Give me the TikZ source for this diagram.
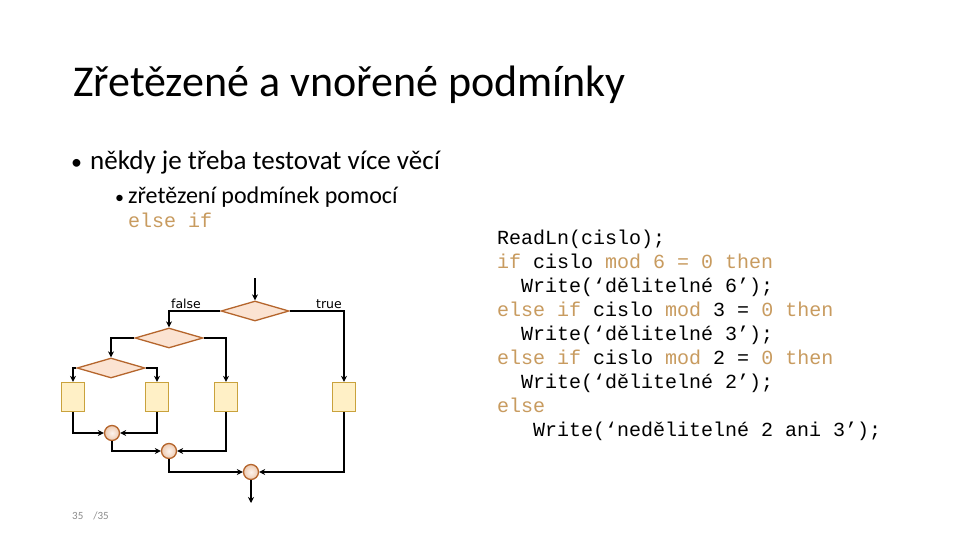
\documentclass[tikz,border=0pt]{standalone}
\usepackage{fontspec}
\setmainfont{Carlito}
\newfontfamily\codefont{Liberation Mono}
\newfontfamily\lblfont{DejaVu Sans}
\usetikzlibrary{shapes.geometric,arrows.meta}
\definecolor{kw}{HTML}{C89B5F}
\definecolor{dfill}{HTML}{FBE3D2}
\definecolor{dline}{HTML}{B5652C}
\definecolor{bfill}{HTML}{FFF0C6}
\definecolor{bline}{HTML}{C9A23C}
\definecolor{pgc}{HTML}{8C8C8C}
\tikzset{
  dec/.style={diamond,draw=dline,fill=dfill,line width=1.3pt,inner sep=0pt,minimum width=68pt,minimum height=20pt,aspect=3.4},
  act/.style={rectangle,draw=bline,fill=bfill,line width=1.3pt,inner sep=0pt,minimum width=23pt,minimum height=29pt},
  jn/.style={circle,draw=dline,inner color=white!60!dfill,outer color=dfill!80!dline,line width=1.3pt,inner sep=0pt,minimum size=15pt},
  arr/.style={line width=1.6pt,-{Stealth[length=6pt,width=6pt]}},
  txt/.style={anchor=base west,inner sep=0pt},
  code/.style={anchor=base west,inner sep=0pt,font=\codefont\fontsize{20}{24}\selectfont},
  lbl/.style={anchor=base,inner sep=0pt,font=\lblfont\fontsize{12.5}{14}\selectfont}
}
\begin{document}
\begin{tikzpicture}[x=1pt,y=-1pt]
\useasboundingbox[fill=white] (0,0) rectangle (960,540);
% title and bullets
\node[txt,font=\fontsize{44}{52}\selectfont] (title) at (73,97) {Zřetězené a vnořené podmínky};
\node[txt,font=\fontsize{22}{26}\selectfont] (bul1) at (71,170) {\textbullet};
\node[txt,font=\fontsize{27}{32}\selectfont] (b1t) at (90,170) {někdy je třeba testovat více věcí};
\node[txt,font=\fontsize{18}{22}\selectfont] (bul2) at (115,203) {\textbullet};
\node[txt,font=\fontsize{24}{28}\selectfont] (b2t) at (128,203) {zřetězení podmínek pomocí};
\node[txt,font=\codefont\fontsize{20}{24}\selectfont,text=kw] (elif) at (128,227) {else if};
% code
\node[code] (l1) at (497,244) {ReadLn(cislo);};
\node[code] (l2) at (497,268) {\textcolor{kw}{if} cislo \textcolor{kw}{mod 6 = 0 then}};
\node[code] (l3) at (521,292) {Write(‘dělitelné 6’);};
\node[code] (l4) at (497,316) {\textcolor{kw}{else if} cislo \textcolor{kw}{mod} 3 = \textcolor{kw}{0 then}};
\node[code] (l5) at (521,340) {Write(‘dělitelné 3’);};
\node[code] (l6) at (497,364) {\textcolor{kw}{else if} cislo \textcolor{kw}{mod} 2 = \textcolor{kw}{0 then}};
\node[code] (l7) at (521,388) {Write(‘dělitelné 2’);};
\node[code,text=kw] (l8) at (497,412) {else};
\node[code] (l9) at (533,436) {Write(‘nedělitelné 2 ani 3’);};
% page number
\node[txt,font=\fontsize{11}{13}\selectfont,text=pgc] (pg) at (72,519) {35\hspace{10pt}/35};
% flowchart
\coordinate (in) at (255,278);
\node[dec] (d1) at (255,311) {};
\node[dec] (d2) at (169,338) {};
\node[dec] (d3) at (111,368) {};
\node[act] (a1) at (73,397) {};
\node[act] (a2) at (157,397) {};
\node[act] (a3) at (226,397) {};
\node[act] (a4) at (344,397) {};
\node[jn] (c1) at (112,433) {};
\node[jn] (c2) at (169,451) {};
\node[jn] (c3) at (251,472) {};
\coordinate (out) at (251,503);
\node[lbl] (fl) at (186,308) {false};
\node[lbl] (tl) at (329,308) {true};
\draw[arr] (in) -- (d1);
\draw[arr] (d1.west) -| (d2.north);
\draw[arr] (d1.east) -| (a4.north);
\draw[arr] (d2.west) -| (d3.north);
\draw[arr] (d2.east) -| (a3.north);
\draw[arr] (d3.west) -| (a1.north);
\draw[arr] (d3.east) -| (a2.north);
\draw[arr] (a1.south) |- (c1.west);
\draw[arr] (a2.south) |- (c1.east);
\draw[arr] (c1.south) |- (c2.west);
\draw[arr] (a3.south) |- (c2.east);
\draw[arr] (c2.south) |- (c3.west);
\draw[arr] (a4.south) |- (c3.east);
\draw[arr] (c3.south) -- (out);
\end{tikzpicture}
\end{document}
